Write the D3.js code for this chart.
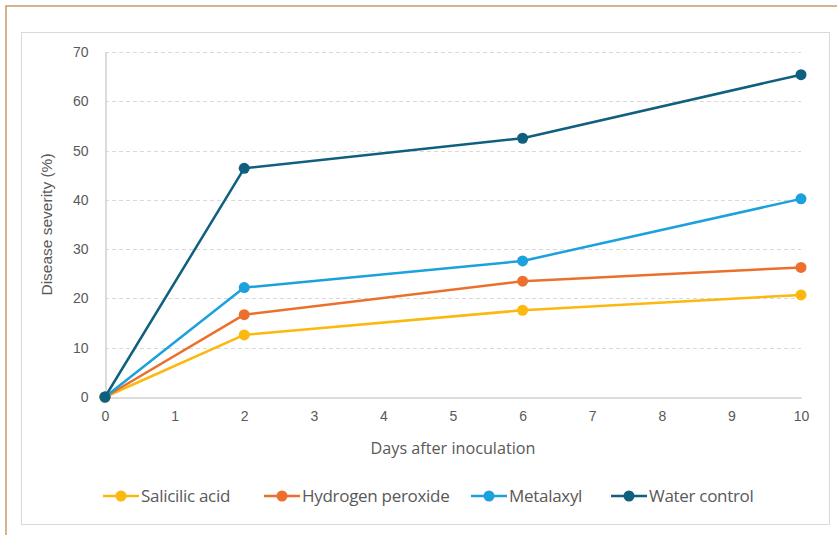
<!DOCTYPE html>
<html>
<head>
<meta charset="utf-8">
<script src="https://cdn.jsdelivr.net/npm/d3@7"></script>
<style>
  html, body { margin: 0; padding: 0; background: #fff; }
  svg { display: block; }
</style>
</head>
<body>
<svg id="chart" width="837" height="535"></svg>
<script>
// Disease severity over time for each treatment
const days = [0, 2, 6, 10];
const salicylic = [0, 12.6, 17.6, 20.7];
const hydrogenPeroxide = [0, 16.7, 23.5, 26.3];
const metalaxyl = [0, 22.2, 27.6, 40.2];
const waterControl = [0, 46.4, 52.5, 65.4];

const seriesNames = ["Salicilic acid", "Hydrogen peroxide", "Metalaxyl", "Water control"];
const seriesColors = ["#fbb90f", "#ec6f2d", "#1ca1dc", "#0f607f"];
const seriesValues = [salicylic, hydrogenPeroxide, metalaxyl, waterControl];

const xTicks = [0, 1, 2, 3, 4, 5, 6, 7, 8, 9, 10];
const yTicks = [0, 10, 20, 30, 40, 50, 60, 70];

const svg = d3.select("#chart");

// outer frame and chart panel
svg.append("rect").attr("x", 6).attr("y", 6).attr("width", 840).attr("height", 540)
  .attr("fill", "none").attr("stroke", "#c79a68").attr("stroke-width", 1.5);
svg.append("rect").attr("x", 21.5).attr("y", 32.5).attr("width", 808).attr("height", 492)
  .attr("fill", "#fff").attr("stroke", "#d9d9d9").attr("stroke-width", 1);

const x = d3.scaleLinear().domain([0, 10]).range([105, 801]);
const y = d3.scaleLinear().domain([0, 70]).range([397, 52]);

// horizontal gridlines
svg.append("g").selectAll("line").data(yTicks.filter(d => d > 0)).join("line")
  .attr("x1", x(0)).attr("x2", x(10))
  .attr("y1", d => Math.round(y(d)) + 0.5).attr("y2", d => Math.round(y(d)) + 0.5)
  .attr("stroke", "#d9d9d9").attr("stroke-dasharray", "4,3").attr("stroke-width", 1);

// axes
const xAxis = svg.append("g").attr("transform", `translate(0,${Math.round(y(0)) + 0.5})`)
  .call(d3.axisBottom(x).tickValues(xTicks).tickSize(0).tickPadding(14).tickFormat(d3.format("d")));
const yAxis = svg.append("g").attr("transform", `translate(${x(0) + 0.5},0)`)
  .call(d3.axisLeft(y).tickValues(yTicks).tickSize(0).tickPadding(17).tickFormat(d3.format("d")));

[xAxis, yAxis].forEach(g => {
  g.select(".domain").attr("stroke", "#d0d0d0").attr("stroke-width", 1.5);
  g.selectAll("text").attr("fill", "#595959").attr("font-size", 14)
    .attr("font-family", "'Liberation Sans', Arial, sans-serif");
});

// axis titles
svg.append("text").attr("x", x(5)).attr("y", 454).attr("text-anchor", "middle")
  .attr("font-family", "'Open Sans', sans-serif").attr("font-size", 16.2).attr("fill", "#595959")
  .text("Days after inoculation");
svg.append("text").attr("transform", `translate(52,${y(35)}) rotate(-90)`)
  .attr("text-anchor", "middle").attr("font-family", "'Liberation Sans', Arial, sans-serif")
  .attr("font-size", 15.5).attr("fill", "#595959").text("Disease severity (%)");

// lines and markers
const line = d3.line().x((d, i) => x(days[i])).y(d => y(d));
seriesValues.forEach((vals, k) => {
  const g = svg.append("g");
  g.append("path").datum(vals).attr("d", line).attr("fill", "none")
    .attr("stroke", seriesColors[k]).attr("stroke-width", 2.5).attr("stroke-linejoin", "round");
  g.selectAll("circle").data(vals).join("circle")
    .attr("cx", (d, i) => x(days[i])).attr("cy", d => y(d)).attr("r", 5.5)
    .attr("fill", seriesColors[k]);
});

// legend
const legendX = [103, 264, 471, 611];
const legend = svg.append("g");
seriesNames.forEach((name, k) => {
  const g = legend.append("g").attr("transform", `translate(${legendX[k]},496)`);
  g.append("line").attr("x1", 0).attr("x2", 36).attr("y1", 0).attr("y2", 0)
    .attr("stroke", seriesColors[k]).attr("stroke-width", 2.5);
  g.append("circle").attr("cx", 18).attr("cy", 0).attr("r", 5.5).attr("fill", seriesColors[k]);
  g.append("text").attr("x", 38).attr("y", 6).attr("font-family", "'Open Sans', sans-serif")
    .attr("font-size", 17).attr("letter-spacing", -0.3).attr("fill", "#595959").text(name);
});
</script>
</body>
</html>
